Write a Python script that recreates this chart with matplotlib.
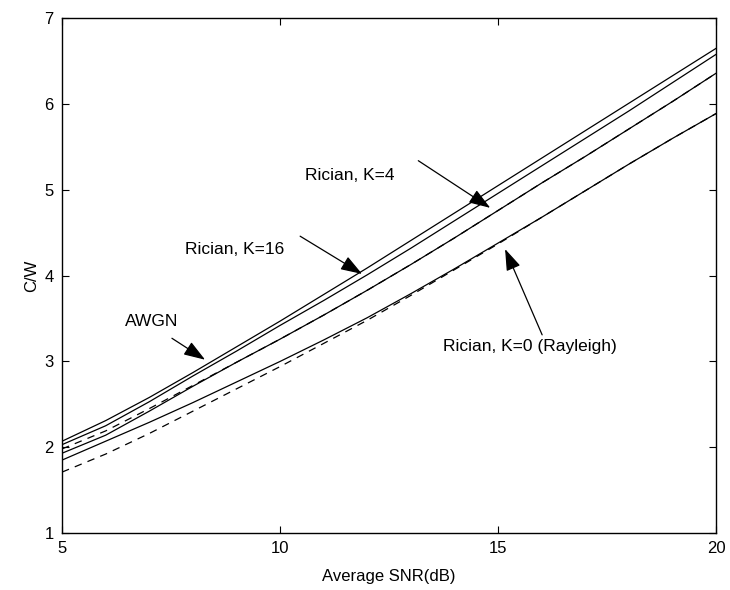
import matplotlib
matplotlib.use("Agg")
import matplotlib.pyplot as plt

plt.rcParams['font.family'] = ['Liberation Sans', 'DejaVu Sans']

snr_db = [5, 6, 7, 8, 9, 10, 11, 12, 13, 14, 15, 16, 17, 18, 19, 20]
awgn = [2.07, 2.31, 2.58, 2.87, 3.17, 3.47, 3.78, 4.09, 4.41, 4.73, 5.05, 5.37, 5.69, 6.01, 6.33, 6.65]
rician_k16 = [2.03, 2.25, 2.53, 2.83, 3.12, 3.42, 3.71, 4.01, 4.32, 4.64, 4.96, 5.28, 5.60, 5.92, 6.25, 6.58]
rician_k4 = [1.93, 2.14, 2.42, 2.71, 2.99, 3.26, 3.54, 3.83, 4.13, 4.44, 4.76, 5.08, 5.39, 5.71, 6.03, 6.36]
rician_k0 = [1.85, 2.07, 2.29, 2.52, 2.76, 3.00, 3.25, 3.51, 3.79, 4.08, 4.38, 4.68, 4.99, 5.30, 5.60, 5.89]
approx_k4 = [1.98, 2.19, 2.45, 2.72, 2.99, 3.26, 3.54, 3.83, 4.13, 4.44, 4.76, 5.08, 5.39, 5.71, 6.03, 6.36]
approx_k0 = [1.71, 1.92, 2.16, 2.42, 2.68, 2.94, 3.21, 3.48, 3.77, 4.07, 4.37, 4.68, 4.99, 5.30, 5.60, 5.89]

fig = plt.figure(figsize=(7.3, 5.9), dpi=100)
ax = fig.add_axes([0.085, 0.0966, 0.896, 0.8724])

lw = 0.9
for ys in (awgn, rician_k16, rician_k4, rician_k0):
    ax.plot(snr_db, ys, color='black', lw=lw, ls='-')
for ys in (approx_k4, approx_k0):
    ax.plot(snr_db, ys, color='black', lw=lw, ls=(0, (6, 5)))

ax.set_xlim(5, 20)
ax.set_ylim(1, 7)
ax.set_xticks([5, 10, 15, 20])
ax.set_yticks([1, 2, 3, 4, 5, 6, 7])
ax.tick_params(direction='in', top=True, right=True, labelsize=12, length=5, pad=6)
for s in ax.spines.values():
    s.set_linewidth(1.0)
ax.set_xlabel('Average SNR(dB)', fontsize=12, labelpad=9)
ax.set_ylabel('C/W', fontsize=12, labelpad=4)

ap = dict(arrowstyle='-|>,head_length=1.1,head_width=0.38', color='black', lw=0.9,
          shrinkA=0, shrinkB=0, mutation_scale=12)
fs = 12.5
# text labels
ax.text(10.57, 5.17, 'Rician, K=4', fontsize=fs, ha='left', va='center')
ax.text(7.82, 4.30, 'Rician, K=16', fontsize=fs, ha='left', va='center')
ax.text(6.44, 3.46, 'AWGN', fontsize=fs, ha='left', va='center')
ax.text(13.74, 3.17, 'Rician, K=0 (Rayleigh)', fontsize=fs, ha='left', va='center')
# arrows
ax.annotate('', xy=(14.82, 4.79), xytext=(13.17, 5.34), arrowprops=ap)
ax.annotate('', xy=(11.88, 4.02), xytext=(10.46, 4.46), arrowprops=ap)
ax.annotate('', xy=(8.28, 3.02), xytext=(7.52, 3.27), arrowprops=ap)
ax.annotate('', xy=(15.16, 4.31), xytext=(16.01, 3.31), arrowprops=ap)

fig.savefig('out.png', dpi=100)
